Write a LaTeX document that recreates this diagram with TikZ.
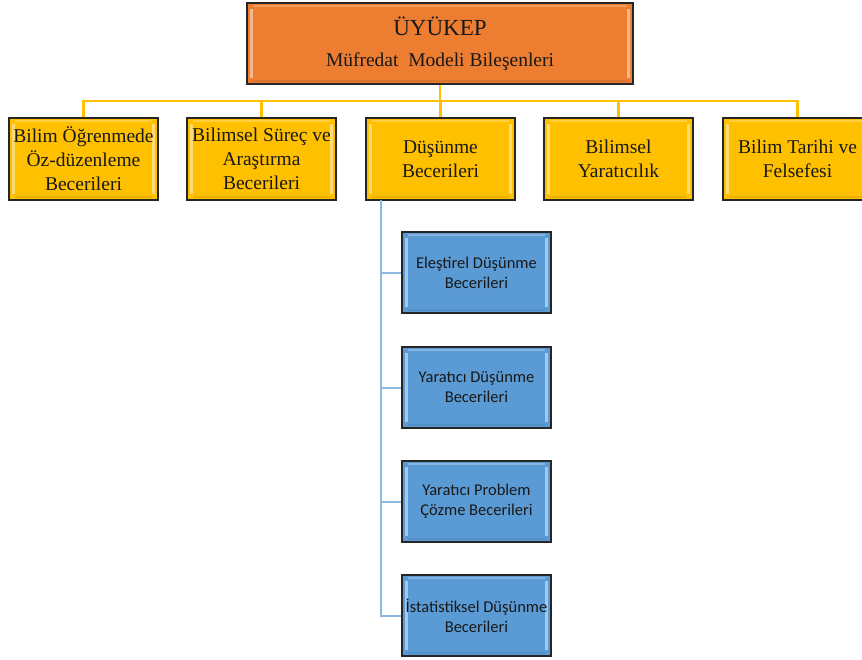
\documentclass[tikz,border=0pt]{standalone}
\usepackage{fontspec}
\setmainfont{Liberation Serif}
\newfontfamily\calibri{Carlito}
\definecolor{orangebox}{HTML}{ED7D31}
\definecolor{goldbox}{HTML}{FFC000}
\definecolor{bluebox}{HTML}{5B9BD5}
\definecolor{goldline}{HTML}{FFC000}
\definecolor{blueline}{HTML}{8FB8E0}
\definecolor{rim}{HTML}{262626}
\begin{document}
\begin{tikzpicture}[x=1pt,y=-1pt,
  card/.style={draw=rim, line width=1.1pt, fill=#1, inner sep=2pt, align=center,
    text=black!90,
    path picture={
      % light bevel strips along the inner edges
      \fill[white,opacity=0.45]
        ([shift={(3pt,-6pt)}]path picture bounding box.north west) rectangle
        ([shift={(6pt,6pt)}]path picture bounding box.south west);
      \fill[white,opacity=0.45]
        ([shift={(-6pt,-6pt)}]path picture bounding box.north east) rectangle
        ([shift={(-3pt,6pt)}]path picture bounding box.south east);
      \fill[white,opacity=0.25]
        ([shift={(6pt,-2pt)}]path picture bounding box.north west) rectangle
        ([shift={(-6pt,-4pt)}]path picture bounding box.north east);
      \fill[black,opacity=0.08]
        ([shift={(6pt,2pt)}]path picture bounding box.south west) rectangle
        ([shift={(-6pt,4pt)}]path picture bounding box.south east);
    }},
  head/.style={card=orangebox, minimum width=386pt, minimum height=81pt},
  branch/.style={card=goldbox, minimum width=149pt, minimum height=82pt,
    font=\fontsize{19.5}{24}\selectfont},
  leaf/.style={card=bluebox, minimum width=149pt, minimum height=81pt,
    font=\calibri\fontsize{16.5}{20}\selectfont},
  goldwire/.style={draw=goldline, line width=2.2pt},
  bluewire/.style={draw=blueline, line width=2pt}
]
\useasboundingbox (0,0) rectangle (862,659);

\coordinate (hub) at (440,101);
\coordinate (spine) at (381,200);

% top box
\node[head] (top) at (440,43.5) {{\fontsize{23}{28}\selectfont ÜYÜKEP}\\[16pt]
  {\fontsize{19.5}{24}\selectfont Müfredat\ \ Modeli Bileşenleri}};

% first level
\node[branch] (b1) at (83.5,159) {Bilim Öğrenmede\\Öz-düzenleme\\Becerileri};
\node[branch] (b2) at (261.5,159) {Bilimsel Süreç ve\\Araştırma\\Becerileri};
\node[branch] (b3) at (440.5,159) {Düşünme\\Becerileri};
\node[branch] (b4) at (618.5,159) {Bilimsel\\Yaratıcılık};
\node[branch] (b5) at (797.5,159) {Bilim Tarihi ve\\Felsefesi};

% thinking skills
\node[leaf] (c1) at (476.5,272.5) {Eleştirel Düşünme\\Becerileri};
\node[leaf] (c2) at (476.5,387.5) {Yaratıcı Düşünme\\Becerileri};
\node[leaf] (c3) at (476.5,501.5) {Yaratıcı Problem\\Çözme Becerileri};
\node[leaf] (c4) at (476.5,615.5) {İstatistiksel Düşünme\\Becerileri};

% connectors
\draw[goldwire] (top.south) -- (hub);
\foreach \b in {b1,b2,b3,b4,b5}
  \draw[goldwire] (\b.north) |- (hub);

\foreach \c in {c1,c2,c3,c4}
  \draw[bluewire] (spine) |- (\c.west);
\end{tikzpicture}
\end{document}
